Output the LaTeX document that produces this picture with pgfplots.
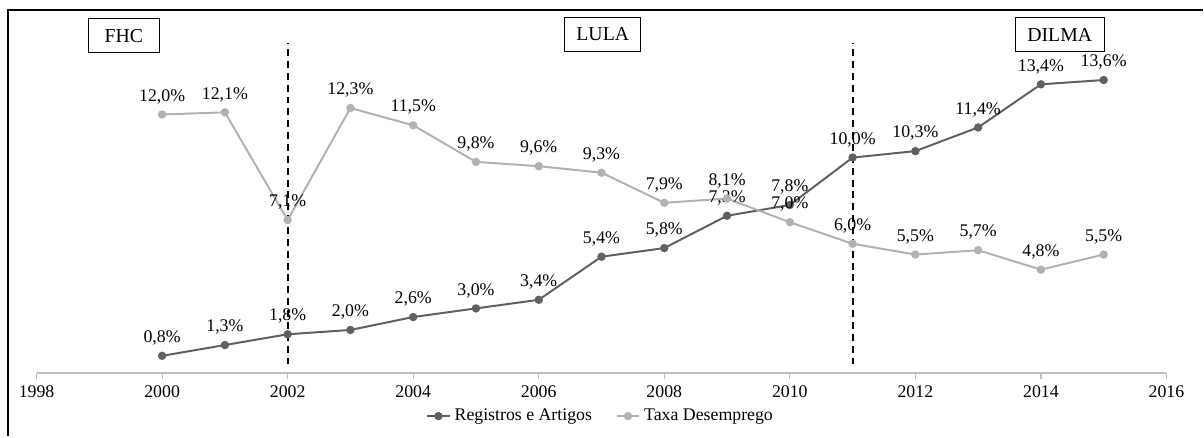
\documentclass[border=0pt]{standalone}
\usepackage{fontspec}
\setmainfont{Liberation Serif}
\usepackage{pgfplots}
\pgfplotsset{compat=1.18}
\definecolor{darkline}{RGB}{96,96,96}
\definecolor{lightline}{RGB}{178,178,178}
\definecolor{axisgray}{RGB}{190,190,190}

\pgfplotstableread{
x    y    lab
2000 0.8  {0,8\%}
2001 1.3  {1,3\%}
2002 1.8  {1,8\%}
2003 2.0  {2,0\%}
2004 2.6  {2,6\%}
2005 3.0  {3,0\%}
2006 3.4  {3,4\%}
2007 5.4  {5,4\%}
2008 5.8  {5,8\%}
2009 7.3  {7,3\%}
2010 7.8  {7,8\%}
2011 10.0 {10,0\%}
2012 10.3 {10,3\%}
2013 11.4 {11,4\%}
2014 13.4 {13,4\%}
2015 13.6 {13,6\%}
}\registros

\pgfplotstableread{
x    y    lab
2000 12.0 {12,0\%}
2001 12.1 {12,1\%}
2002 7.1  {7,1\%}
2003 12.3 {12,3\%}
2004 11.5 {11,5\%}
2005 9.8  {9,8\%}
2006 9.6  {9,6\%}
2007 9.3  {9,3\%}
2008 7.9  {7,9\%}
2009 8.1  {8,1\%}
2010 7.0  {7,0\%}
2011 6.0  {6,0\%}
2012 5.5  {5,5\%}
2013 5.7  {5,7\%}
2014 4.8  {4,8\%}
2015 5.5  {5,5\%}
}\taxa

\begin{document}
\begin{tikzpicture}[font=\rmfamily\fontsize{9}{11}\selectfont]
\begin{axis}[
    name=a,
    scale only axis,
    width=571.5pt,
    height=183.1pt,
    xmin=1998, xmax=2016,
    ymin=0, ymax=16.8,
    axis x line=bottom,
    axis y line=none,
    axis line style={draw=axisgray, line width=0.6pt, -},
    xtick={1998,2000,...,2016},
    tick align=outside,
    major tick length=3pt,
    tick style={draw=axisgray, line width=0.6pt},
    xticklabel style={/pgf/number format/1000 sep=, /pgf/number format/assume math mode=true,
        font=\rmfamily\fontsize{9}{11}\selectfont},
    clip=false,
    legend style={at={(0.5,-0.119)}, anchor=center, draw=none, fill=none,
        font=\rmfamily\fontsize{9}{11}\selectfont, legend columns=2,
        /tikz/every even column/.append style={column sep=10pt}},
    legend image code/.code={\draw[mark repeat=2,mark phase=2] plot coordinates {(0cm,0cm) (0.2cm,0cm) (0.4cm,0cm)};},
    nodes near coords,
    point meta=explicit symbolic,
    every node near coord/.append style={font=\rmfamily\fontsize{9}{11}\selectfont, text=black, anchor=south, yshift=1.5pt},
]
\addplot[color=darkline, line width=1pt, mark=*, mark size=1.6pt] table[x=x, y=y, meta=lab] {\registros};
\addplot[color=lightline, line width=1pt, mark=*, mark size=1.6pt] table[x=x, y=y, meta=lab] {\taxa};
\legend{Registros e Artigos, Taxa Desemprego}

\draw[black, line width=1pt, dash pattern=on 3.5pt off 2.5pt] (axis cs:2002,0.4) -- (axis cs:2002,15.34);
\draw[black, line width=1pt, dash pattern=on 3.5pt off 2.5pt] (axis cs:2011,0.4) -- (axis cs:2011,15.34);

\node[draw=black, line width=0.5pt, fill=white, minimum width=36pt, minimum height=17pt, inner xsep=6pt, font=\rmfamily\fontsize{10}{12}\selectfont] at (axis cs:1999.39,15.66) {FHC};
\node[draw=black, line width=0.5pt, fill=white, minimum width=35.5pt, minimum height=17pt, inner xsep=6pt, font=\rmfamily\fontsize{10}{12}\selectfont] at (axis cs:2007.02,15.72) {LULA};
\node[draw=black, line width=0.5pt, fill=white, minimum width=41pt, minimum height=17pt, inner xsep=6pt, font=\rmfamily\fontsize{10}{12}\selectfont] at (axis cs:2014.3,15.7) {DILMA};
\end{axis}
\pgfresetboundingbox
\path[shift={(a.south west)}] (-18.5pt,-29.8pt) rectangle (583.5pt,188.7pt);
\draw[shift={(a.south west)}, black, line width=1pt] (-14.5pt,-32pt) -- (-14.5pt,183.7pt) -- (590pt,183.7pt);
\end{tikzpicture}
\end{document}
